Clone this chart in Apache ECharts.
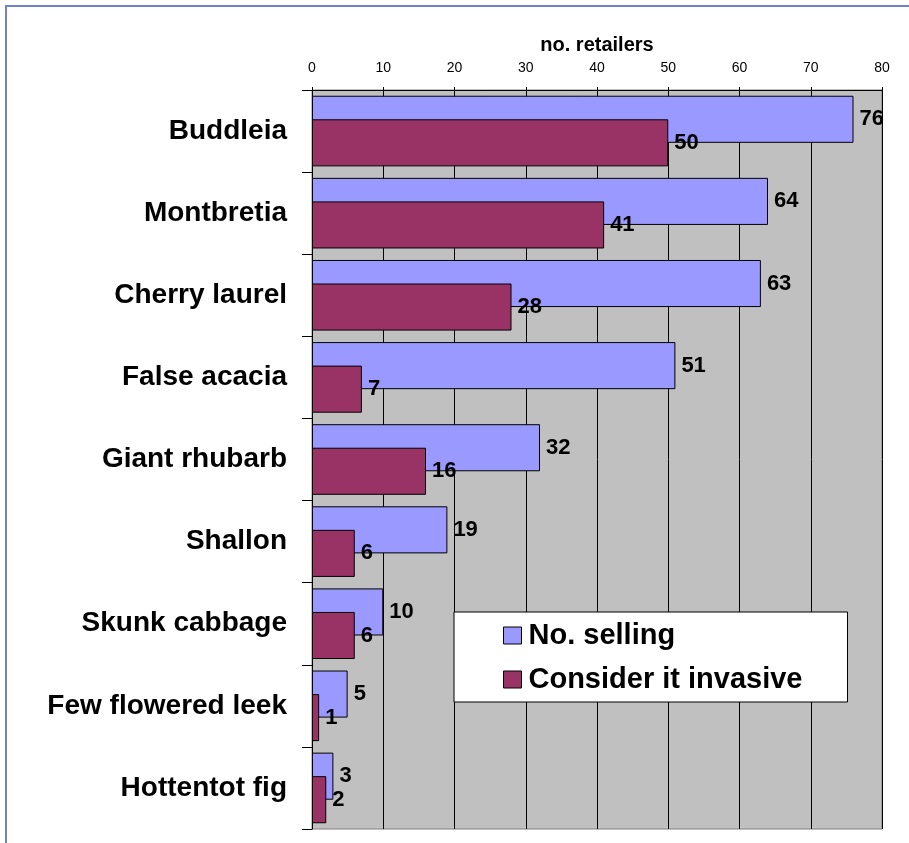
<!DOCTYPE html>
<html>
<head>
<meta charset="utf-8">
<script src="https://cdn.jsdelivr.net/npm/echarts@6/dist/echarts.min.js"></script>
<style>
html,body{margin:0;padding:0;background:#fff;}
#chart{width:909px;height:843px;}
</style>
</head>
<body>
<div id="chart"></div>
<script>
const categories = ["Buddleia","Montbretia","Cherry laurel","False acacia","Giant rhubarb","Shallon","Skunk cabbage","Few flowered leek","Hottentot fig"];
const noSelling = [76,64,63,51,32,19,10,5,3];
const considerInvasive = [50,41,28,7,16,6,6,1,2];
const xTicks = [0,10,20,30,40,50,60,70,80];
const seriesNames = ["No. selling","Consider it invasive"];

const FONT = 'Arial, "Liberation Sans", sans-serif';
const chart = echarts.init(document.getElementById('chart'), null, {renderer:'canvas'});

const valueLabel = {
  show: true, position: 'right', distance: 6,
  fontFamily: FONT, fontWeight: 'bold', fontSize: 22, color: '#000'
};

chart.setOption({
  animation: false,
  backgroundColor: '#fff',
  textStyle: {fontFamily: FONT},
  graphic: [{
    type: 'polyline',
    shape: {points: [[6, 843], [6, 6], [909, 6]]},
    style: {stroke: '#7282C8', lineWidth: 2, fill: null},
    z: 100
  }],
  grid: {
    left: 312, right: 27, top: 90, bottom: 14,
    show: true, backgroundColor: '#C0C0C0', borderColor: '#808080', borderWidth: 1,
    outerBoundsMode: 'none'
  },
  legend: {
    orient: 'vertical',
    left: 454, top: 612,
    data: seriesNames,
    backgroundColor: '#fff', borderColor: '#000', borderWidth: 1,
    padding: [9, 45, 8, 49],
    itemWidth: 18, itemHeight: 17, itemGap: 15,
    icon: 'rect',
    itemStyle: {borderColor: '#000', borderWidth: 1},
    textStyle: {fontFamily: FONT, fontWeight: 'bold', fontSize: 29, color: '#000', lineHeight: 28, padding: [0,0,0,2]},
    z: 10
  },
  xAxis: {
    type: 'value', position: 'top',
    min: 0, max: 80, interval: 10,
    name: 'no. retailers', nameLocation: 'middle', nameGap: 35,
    nameTextStyle: {fontFamily: FONT, fontWeight: 'bold', fontSize: 20, color: '#000'},
    axisLine: {show: true, lineStyle: {color: '#000', width: 1}},
    axisTick: {show: true, length: 3, lineStyle: {color: '#000'}},
    axisLabel: {
      margin: 15, fontFamily: FONT, fontSize: 14, color: '#000',
      formatter: function (v) { return xTicks.indexOf(v) >= 0 ? String(v) : ''; }
    },
    splitLine: {show: true, lineStyle: {color: '#000', width: 1}}
  },
  yAxis: {
    type: 'category', inverse: true, data: categories,
    axisLine: {show: true, lineStyle: {color: '#000', width: 1}},
    axisTick: {show: true, length: 10, lineStyle: {color: '#000'}},
    axisLabel: {margin: 25, fontFamily: FONT, fontWeight: 'bold', fontSize: 28, color: '#000'},
    splitLine: {show: false}
  },
  series: [
    {
      name: seriesNames[0], type: 'bar', data: noSelling,
      barGap: '-50%', barCategoryGap: '14%',
      itemStyle: {color: '#9999FF', borderColor: '#000', borderWidth: 1},
      label: valueLabel
    },
    {
      name: seriesNames[1], type: 'bar', data: considerInvasive,
      barGap: '-50%', barCategoryGap: '14%',
      itemStyle: {color: '#993366', borderColor: '#000', borderWidth: 1},
      label: valueLabel
    }
  ]
});
</script>
</body>
</html>
